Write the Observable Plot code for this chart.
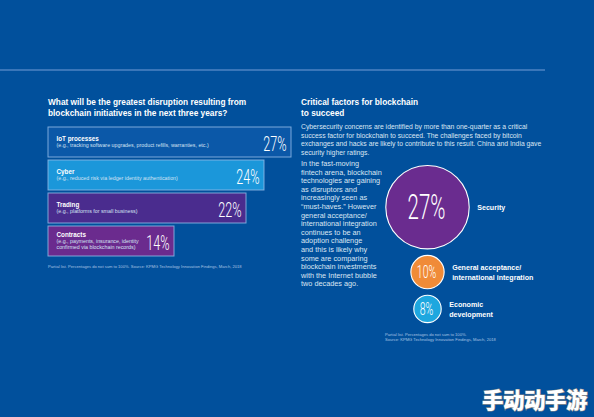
<!DOCTYPE html>
<html><head><meta charset="utf-8">
<script src="https://cdn.jsdelivr.net/npm/d3@7"></script>
<script src="https://cdn.jsdelivr.net/npm/@observablehq/plot@0.6"></script>
<style>
html,body{margin:0;padding:0;background:#01509c;}
#root{position:relative;width:594px;height:417px;overflow:hidden;background:#01509c;font-family:"Liberation Sans",Arial,sans-serif;color:#fff;}
.abs{position:absolute;white-space:nowrap;}
.title{font-weight:bold;font-size:8.3px;line-height:11.3px;}
.para{font-size:6.8px;line-height:8.6px;color:#dbe6f3;}
.col{font-size:7.3px;line-height:8.6px;color:#dbe6f3;}
.note{font-size:4.1px;line-height:5.6px;color:#a9c3e3;}
.rule{position:absolute;left:0;top:69px;width:545px;height:2px;background:#3a76b9;}
.wm{position:absolute;left:482px;top:383px;font-family:"Noto Sans CJK SC",sans-serif;font-weight:900;font-size:21.5px;color:#fff;-webkit-text-stroke:1.2px #8a8a8a;paint-order:stroke fill;letter-spacing:-0.5px;white-space:nowrap;}
svg{position:absolute;overflow:visible;}
</style></head><body><div id="root"></div>
<script>
// ---- data ----
const leftTitle = ["What will be the greatest disruption resulting from", "blockchain initiatives in the next three years?"];
const disruptionCategories = ["IoT processes", "Cyber", "Trading", "Contracts"];
const disruptionExamples = [
  "(e.g., tracking software upgrades, product refills, warranties, etc.)",
  "(e.g., reduced risk via ledger identity authentication)",
  "(e.g., platforms for small business)",
  "(e.g., payments, insurance, identity\nconfirmed via blockchain records)"
];
const disruptionValues = [27, 24, 22, 14];
const leftNote = ["Partial list. Percentages do not sum to 100%. Source: KPMG Technology Innovation Findings, March, 2018"];

const rightTitle = ["Critical factors for blockchain", "to succeed"];
const rightIntro = [
  "Cybersecurity concerns are identified by more than one-quarter as a critical",
  "success factor for blockchain to succeed. The challenges faced by bitcoin",
  "exchanges and hacks are likely to contribute to this result. China and India gave",
  "security higher ratings."
];
const rightColumn = [
  "In the fast-moving", "fintech arena, blockchain", "technologies are gaining", "as disruptors and",
  "increasingly seen as", "\u201Cmust-haves.\u201D However", "general acceptance/", "international integration",
  "continues to be an", "adoption challenge", "and this is likely why", "some are comparing",
  "blockchain investments", "with the Internet bubble", "two decades ago."
];
const factorNames = ["Security", "General acceptance/\ninternational integration", "Economic\ndevelopment"];
const factorValues = [27, 10, 8];
const rightNote = ["Partial list. Percentages do not sum to 100%.", "Source: KPMG Technology Innovation Findings, March, 2018"];
const watermark = "手动动手游";

// ---- styles ----
const barColors = ["#0b58a8", "#1b97da", "#4a2c8e", "#6b2b8e"];
const factorColors = ["#6a2c8f", "#f08b38", "#1ea7df"];

const root = document.getElementById("root");
function block(cls, lines, left, top) {
  const d = document.createElement("div");
  d.className = "abs " + cls;
  d.style.left = left + "px"; d.style.top = top + "px";
  d.innerHTML = lines.map(s => s.replace(/&/g,"&amp;").replace(/</g,"&lt;")).join("<br>");
  root.appendChild(d);
}
const rule = document.createElement("div"); rule.className = "rule"; root.appendChild(rule);
block("title", leftTitle, 48, 97);
block("title", rightTitle, 301, 97);
block("para", rightIntro, 301, 123);
block("col", rightColumn, 301, 160);
block("note", leftNote, 48, 263.5);
block("note", rightNote, 385, 331.5);

// ---- left bar chart ----
const bars = disruptionCategories.map((c, i) => ({category: c, example: disruptionExamples[i], value: disruptionValues[i], multi: disruptionExamples[i].includes("\n")}));
const left = Plot.plot({
  width: 300, height: 150, margin: 0,
  style: {background: "transparent", overflow: "visible", fontFamily: "Liberation Sans, Arial, sans-serif"},
  x: {domain: [0, 27], range: [48, 291], axis: null},
  y: {domain: disruptionCategories, range: [5.2, 138.4], paddingInner: 0.08, paddingOuter: 0.04, axis: null},
  color: {domain: disruptionCategories, range: barColors},
  marks: [
    Plot.barX(bars, {x: "value", y: "category", fill: "category", stroke: "#8fb9e6", strokeOpacity: 0.85, strokeWidth: 1}),
    Plot.text(bars, {filter: d => !d.multi, x: 0, y: "category", text: "category", textAnchor: "start", dx: 8, dy: -3.8, fill: "white", fontWeight: "bold", fontSize: 6.3}),
    Plot.text(bars, {filter: d => d.multi, x: 0, y: "category", text: "category", textAnchor: "start", dx: 8, dy: -6.3, fill: "white", fontWeight: "bold", fontSize: 6.3}),
    Plot.text(bars, {filter: d => !d.multi, x: 0, y: "category", text: "example", textAnchor: "start", lineAnchor: "top", dx: 8, dy: 0.8, fill: "#d3e2f3", fontSize: 5.3}),
    Plot.text(bars, {filter: d => d.multi, x: 0, y: "category", text: "example", textAnchor: "start", lineAnchor: "top", dx: 8, dy: -2, lineHeight: 1.05, fill: "#d3e2f3", fontSize: 5.3}),
    Plot.text(bars, {x: "value", y: "category", text: d => d.value + "%", textAnchor: "end", dx: -5, dy: 1.5, fill: "white", fontSize: 21, fontWeight: 300, fontFamily: "Roboto, Liberation Sans, sans-serif", className: "pct"})
  ]
});
left.style.left = "0px"; left.style.top = "120px";
root.appendChild(left);

// ---- right bubble chart ----
const rDomain = [8, 27], rRange = [13.7, 41.7];
const rs = d3.scaleLinear().domain(rDomain).range(rRange);
const cx = 97, gap = 6.5;
let yCursor = 10;
const factors = factorNames.map((n, i) => {
  const r = rs(factorValues[i]);
  const cy = yCursor + r; yCursor = cy + r + gap;
  return {name: n, value: factorValues[i], cx, cy, r, size: Math.max(r * 0.82, 17.5)};
});
const right = Plot.plot({
  width: 240, height: 175, margin: 0,
  style: {background: "transparent", overflow: "visible", fontFamily: "Liberation Sans, Arial, sans-serif"},
  x: {type: "identity", axis: null}, y: {type: "identity", axis: null},
  r: {type: "linear", domain: rDomain, range: rRange},
  color: {domain: factorNames, range: factorColors},
  marks: [
    Plot.dot(factors, {x: "cx", y: "cy", r: "value", fill: "name", stroke: "white", strokeWidth: 1.1}),
    Plot.text(factors, {x: "cx", y: "cy", text: d => d.value + "%", fontSize: "size", dx: -1, dy: 0.5, fill: "white", fontWeight: 300, fontFamily: "Roboto, Liberation Sans, sans-serif", className: "pct"}),
    Plot.text(factors, {x: d => d.cx + d.r + 8, y: "cy", text: "name", textAnchor: "start", fontWeight: "bold", fontSize: 7.1, lineHeight: 1.32, fill: "white"})
  ]
});
right.style.left = "330px"; right.style.top = "155px";
root.appendChild(right);

const wm = document.createElement("div"); wm.className = "wm"; wm.textContent = watermark; root.appendChild(wm);

// condense the thin percentage numerals
document.querySelectorAll(".pct text").forEach(el => {
  const w = el.getComputedTextLength();
  el.setAttribute("textLength", (w * 0.6).toFixed(1));
  el.setAttribute("lengthAdjust", "spacingAndGlyphs");
});
</script></body></html>
